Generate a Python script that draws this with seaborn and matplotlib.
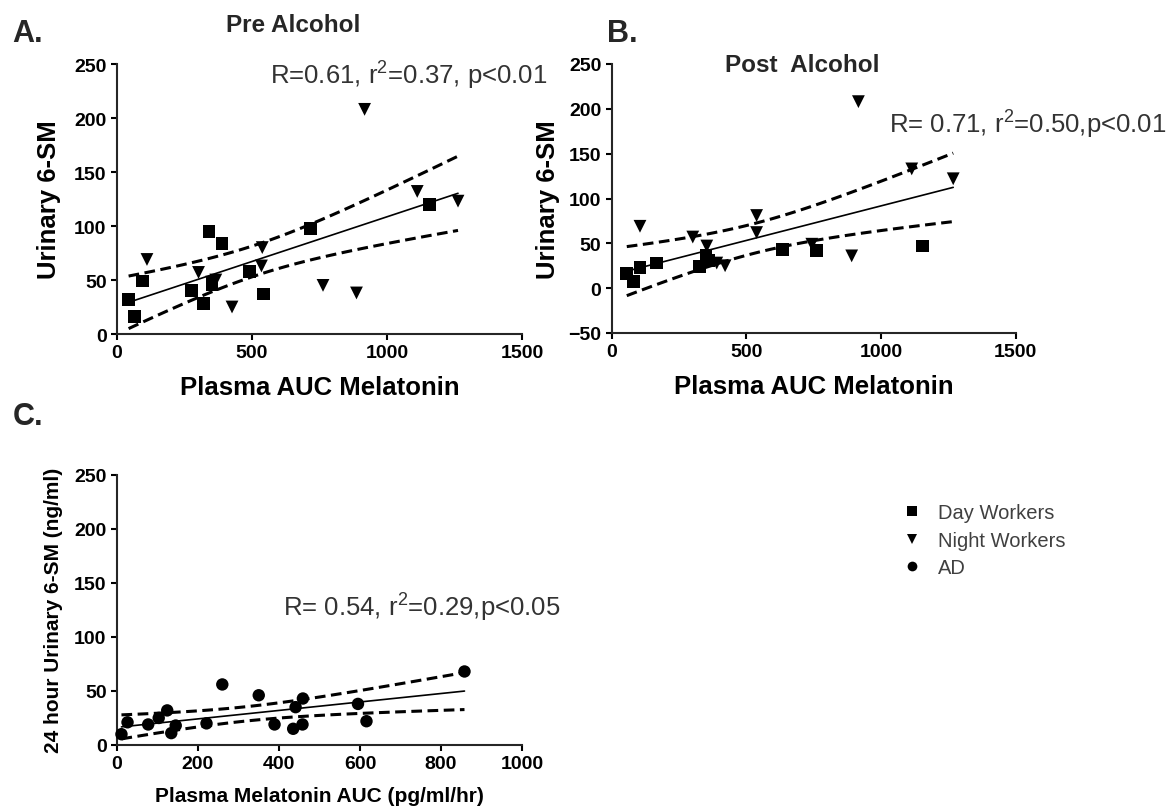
import numpy as np
import pandas as pd
import matplotlib
matplotlib.use("Agg")
from matplotlib import pyplot as plt
from matplotlib.lines import Line2D
import seaborn as sns

# ---- data ----
pre_day_x = [43, 65, 94, 275, 319, 341, 352, 389, 491, 544, 716, 1158]
pre_day_y = [32, 16, 49, 40, 28, 95, 46, 84, 58, 37, 98, 120]
pre_night_x = [111, 302, 350, 366, 426, 535, 538, 763, 887, 917, 1112, 1263]
pre_night_y = [69, 57, 48, 50, 25, 63, 80, 45, 38, 208, 132, 123]

post_day_x = [56, 80, 105, 167, 325, 350, 359, 635, 761, 1155]
post_day_y = [16, 7, 23, 28, 24, 37, 31, 43, 42, 47]
post_night_x = [105, 301, 353, 390, 421, 538, 538, 743, 891, 916, 1114, 1268]
post_night_y = [69, 57, 47, 28, 25, 81, 62, 49, 36, 208, 133, 122]

ad_x = [11, 26, 77, 103, 124, 134, 145, 221, 260, 350, 389, 435, 441, 459, 458, 595, 616, 858]
ad_y = [10, 21, 19, 25, 32, 11, 18, 20, 56, 46, 19, 15, 35, 43, 19, 38, 22, 68]

stats = ["R=0.61, r$^{2}$=0.37, p<0.01",
         "R= 0.71, r$^{2}$=0.50,p<0.01",
         "R= 0.54, r$^{2}$=0.29,p<0.05"]

markers = {"Day Workers": "s", "Night Workers": "v", "AD": "o"}


def make_df(day_x, day_y, night_x, night_y):
    d1 = pd.DataFrame({"auc": day_x, "sm": day_y, "group": "Day Workers"})
    d2 = pd.DataFrame({"auc": night_x, "sm": night_y, "group": "Night Workers"})
    return pd.concat([d1, d2], ignore_index=True)


pre_df = make_df(pre_day_x, pre_day_y, pre_night_x, pre_night_y)
post_df = make_df(post_day_x, post_day_y, post_night_x, post_night_y)
ad_df = pd.DataFrame({"auc": ad_x, "sm": ad_y, "group": "AD"})

sns.set_theme(style="ticks")
plt.rcParams["font.family"] = ["Liberation Sans", "DejaVu Sans"]
plt.rcParams["mathtext.fontset"] = "custom"
plt.rcParams["mathtext.rm"] = "Liberation Sans"
plt.rcParams["axes.linewidth"] = 1.5
plt.rcParams["xtick.major.width"] = 1.5
plt.rcParams["ytick.major.width"] = 1.5
plt.rcParams["xtick.major.size"] = 4.5
plt.rcParams["ytick.major.size"] = 4.5

W, H = 1176, 812
fig = plt.figure(figsize=(W / 100, H / 100), dpi=100)


def box(l, t, r, b):
    return [l / W, 1 - b / H, (r - l) / W, (b - t) / H]


def fit_panel(ax, df, ms):
    sns.scatterplot(data=df, x="auc", y="sm", style="group", markers=markers,
                    color="black", s=ms, linewidth=0, legend=False, ax=ax,
                    clip_on=False, zorder=3)
    sns.regplot(data=df, x="auc", y="sm", scatter=False, ci=None, color="black",
                line_kws=dict(lw=1.2), ax=ax, truncate=True)
    # 95% confidence band of the fit, drawn as dashed lines
    x = df["auc"].to_numpy(float)
    y = df["sm"].to_numpy(float)
    n = len(x)
    b1, b0 = np.polyfit(x, y, 1)
    resid = y - (b0 + b1 * x)
    s = np.sqrt((resid ** 2).sum() / (n - 2))
    xg = np.linspace(x.min(), x.max(), 100)
    se = s * np.sqrt(1 / n + (xg - x.mean()) ** 2 / ((x - x.mean()) ** 2).sum())
    t = 2.07
    for sign in (1, -1):
        ax.plot(xg, b0 + b1 * xg + sign * t * se, color="black", lw=2.2,
                ls=(0, (3.5, 1.8)))


def style_axes(ax, xlim, xticks, ylim, yticks, xlabel, ylabel, lab_size, lab_weight):
    ax.set_xlim(*xlim)
    ax.set_ylim(*ylim)
    ax.set_xticks(xticks)
    ax.set_yticks(yticks)
    sns.despine(ax=ax)
    ax.tick_params(labelsize=14, colors="black", pad=3)
    for lab in ax.get_xticklabels() + ax.get_yticklabels():
        lab.set_fontweight("bold")
    ax.set_xlabel(xlabel, fontsize=lab_size, fontweight=lab_weight, color="black")
    ax.set_ylabel(ylabel, fontsize=lab_size, fontweight=lab_weight, color="black")


# A. pre alcohol
axA = fig.add_axes(box(117, 65, 522, 335))
fit_panel(axA, pre_df, 85)
style_axes(axA, (0, 1500), [0, 500, 1000, 1500], (0, 250), range(0, 251, 50),
           "Plasma AUC Melatonin", "Urinary 6-SM", 18.5, "bold")
axA.xaxis.set_label_coords(0.5, -0.152)
axA.yaxis.set_label_coords(-0.138, 0.5)

# B. post alcohol
axB = fig.add_axes(box(611.7, 65, 1015.7, 334))
fit_panel(axB, post_df, 85)
style_axes(axB, (0, 1500), [0, 500, 1000, 1500], (-50, 250), range(-50, 251, 50),
           "Plasma AUC Melatonin", "Urinary 6-SM", 18.5, "bold")
axB.xaxis.set_label_coords(0.5, -0.152)
axB.yaxis.set_label_coords(-0.128, 0.5)

# C. AD
axC = fig.add_axes(box(117, 475.7, 522, 746))
fit_panel(axC, ad_df, 80)
style_axes(axC, (0, 1000), range(0, 1001, 200), (0, 250), range(0, 251, 50),
           "Plasma Melatonin AUC (pg/ml/hr)", "24 hour Urinary 6-SM (ng/ml)", 15, "bold")
axC.xaxis.set_label_coords(0.5, -0.150)
axC.yaxis.set_label_coords(-0.133, 0.5)


def ftext(x, y, s, **kw):
    fig.text(x / W, 1 - y / H, s, **kw)


ftext(12, 42, "A.", fontsize=22, fontweight="bold", va="baseline", ha="left")
ftext(607, 42, "B.", fontsize=22, fontweight="bold", va="baseline", ha="left")
ftext(13, 425, "C.", fontsize=22, fontweight="bold", va="baseline", ha="left")
ftext(293, 32, "Pre Alcohol", fontsize=17.5, fontweight="bold", va="baseline", ha="center")
ftext(802, 72, "Post  Alcohol", fontsize=17.5, fontweight="bold", va="baseline", ha="center")

ftext(270, 84, stats[0], fontsize=18.5, color="#333333", va="baseline", ha="left")
ftext(889, 133, stats[1], fontsize=18.5, color="#333333", va="baseline", ha="left")
ftext(283, 616, stats[2], fontsize=18.5, color="#333333", va="baseline", ha="left")

handles = [Line2D([], [], marker=m, ls="", color="black", markersize=7, markeredgewidth=0)
           for m in markers.values()]
fig.legend(handles, list(markers.keys()), loc="upper left",
           bbox_to_anchor=(892 / W, 1 - 504 / H), frameon=False, fontsize=14.5,
           labelcolor="#404040", handlelength=2.0, handletextpad=0.3,
           labelspacing=0.43, borderpad=0, borderaxespad=0)

fig.savefig("out.png", dpi=100)
